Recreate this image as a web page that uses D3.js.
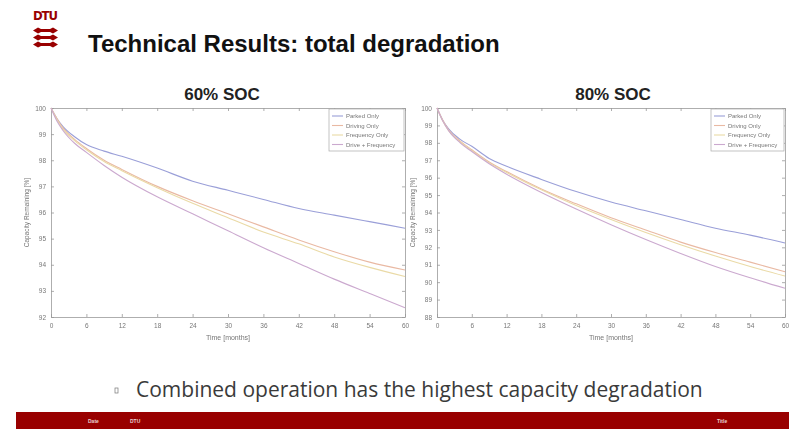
<!DOCTYPE html>
<html>
<head>
<meta charset="utf-8">
<script src="https://cdn.jsdelivr.net/npm/d3@7/dist/d3.min.js"></script>
<style>
  html, body { margin: 0; padding: 0; background: #fff; }
  svg { display: block; }
</style>
</head>
<body>
<svg id="slide" width="789" height="429"></svg>
<script>
// ---- data ----
const months = [0, 1, 2, 4, 6, 9, 12, 18, 24, 30, 36, 42, 48, 54, 60];
const seriesNames = ["Parked Only", "Driving Only", "Frequency Only", "Drive + Frequency"];
const seriesColors = ["#9a9fd8", "#e9b9a3", "#eadaa6", "#cba9cf"];

// capacity remaining [%], 60% SOC
const soc60Parked    = [100, 99.6, 99.3, 98.9, 98.6, 98.35, 98.15, 97.7, 97.2, 96.85, 96.5, 96.15, 95.9, 95.65, 95.4];
const soc60Driving   = [100, 99.6, 99.25, 98.8, 98.45, 98.0, 97.65, 97.0, 96.45, 95.95, 95.45, 94.95, 94.5, 94.1, 93.8];
const soc60Frequency = [100, 99.55, 99.2, 98.75, 98.4, 97.95, 97.6, 96.95, 96.35, 95.8, 95.25, 94.8, 94.3, 93.9, 93.55];
const soc60Combined  = [100, 99.5, 99.15, 98.65, 98.3, 97.8, 97.35, 96.6, 95.95, 95.3, 94.65, 94.05, 93.45, 92.9, 92.35];

// capacity remaining [%], 80% SOC
const soc80Parked    = [100, 99.3, 98.8, 98.2, 97.8, 97.1, 96.65, 95.9, 95.2, 94.6, 94.1, 93.6, 93.1, 92.7, 92.25];
const soc80Driving   = [100, 99.3, 98.75, 98.1, 97.6, 96.9, 96.35, 95.35, 94.5, 93.7, 93.0, 92.3, 91.7, 91.15, 90.6];
const soc80Frequency = [100, 99.25, 98.7, 98.05, 97.55, 96.85, 96.3, 95.3, 94.4, 93.6, 92.85, 92.15, 91.5, 90.9, 90.35];
const soc80Combined  = [100, 99.25, 98.7, 98.0, 97.5, 96.8, 96.2, 95.15, 94.2, 93.3, 92.45, 91.65, 90.9, 90.25, 89.65];

const xTicks = [0, 6, 12, 18, 24, 30, 36, 42, 48, 54, 60];
const yTicks60 = [92, 93, 94, 95, 96, 97, 98, 99, 100];
const yTicks80 = [88, 89, 90, 91, 92, 93, 94, 95, 96, 97, 98, 99, 100];

const panels = [
  { title: "60% SOC", yDomain: [92, 100], yTicks: yTicks60,
    series: [soc60Parked, soc60Driving, soc60Frequency, soc60Combined],
    left: 51, right: 405, top: 108, bottom: 317, titleX: 222, legendX: 329 },
  { title: "80% SOC", yDomain: [88, 100], yTicks: yTicks80,
    series: [soc80Parked, soc80Driving, soc80Frequency, soc80Combined],
    left: 437, right: 785, top: 108, bottom: 317, titleX: 613, legendX: 711 }
];

const svg = d3.select("#slide");
const dark = "#990000";

// soft focus for the embedded plots
const defs = svg.append("defs");
defs.append("filter").attr("id", "soft")
  .append("feGaussianBlur").attr("stdDeviation", 0.6);

// ---- header: logo + heading ----
const logo = svg.append("g");
logo.append("text").attr("x", 33).attr("y", 20)
  .attr("font-family", "DejaVu Sans Condensed, DejaVu Sans").attr("font-weight", "bold")
  .attr("font-size", 13).attr("fill", dark).attr("textLength", 25).text("DTU");
[30.5, 37.5, 44.5].forEach(cy => {
  logo.append("path")
    .attr("d", `M33,${cy} L38,${cy - 3} L41,${cy - 1.5} L50,${cy - 1.5} L53,${cy - 3} L58,${cy} L53,${cy + 3} L50,${cy + 1.5} L41,${cy + 1.5} L38,${cy + 3} Z`)
    .attr("fill", dark);
});
svg.append("text").attr("x", 88).attr("y", 52)
  .attr("font-family", "Liberation Sans, Arial, sans-serif").attr("font-weight", "bold")
  .attr("font-size", 24).attr("fill", "#111").text("Technical Results: total degradation");

// ---- plots ----
panels.forEach(p => {
  svg.append("text").attr("x", p.titleX).attr("y", 100).attr("text-anchor", "middle")
    .attr("font-family", "Liberation Sans, Arial, sans-serif").attr("font-weight", "bold")
    .attr("font-size", 17).attr("fill", "#222").text(p.title);

  const g = svg.append("g").attr("filter", "url(#soft)");
  const x = d3.scaleLinear().domain([0, 60]).range([p.left, p.right]);
  const y = d3.scaleLinear().domain(p.yDomain).range([p.bottom, p.top]);

  g.append("rect").attr("x", p.left).attr("y", p.top)
    .attr("width", p.right - p.left).attr("height", p.bottom - p.top).attr("fill", "#fff");

  const style = sel => {
    sel.select(".domain").attr("stroke", "#999").attr("stroke-width", 0.8);
    sel.selectAll(".tick line").attr("stroke", "#999").attr("stroke-width", 0.8);
    sel.selectAll(".tick text").attr("fill", "#777")
      .attr("font-family", "Liberation Sans, Arial, sans-serif").attr("font-size", 6.5);
  };

  g.append("g").attr("transform", `translate(0,${p.bottom})`)
    .call(d3.axisBottom(x).tickValues(xTicks).tickSize(-3).tickSizeOuter(0).tickPadding(6))
    .call(style);
  g.append("g").attr("transform", `translate(0,${p.top})`)
    .call(d3.axisTop(x).tickValues(xTicks).tickSize(-3).tickSizeOuter(0).tickFormat(""))
    .call(style);
  g.append("g").attr("transform", `translate(${p.left},0)`)
    .call(d3.axisLeft(y).tickValues(p.yTicks).tickSize(-3).tickSizeOuter(0).tickPadding(5))
    .call(style);
  g.append("g").attr("transform", `translate(${p.right},0)`)
    .call(d3.axisRight(y).tickValues(p.yTicks).tickSize(-3).tickSizeOuter(0).tickFormat(""))
    .call(style);

  // axis titles
  g.append("text")
    .attr("transform", `translate(${p.left - 22},${(p.top + p.bottom) / 2}) rotate(-90)`)
    .attr("text-anchor", "middle").attr("font-family", "Liberation Sans, Arial, sans-serif")
    .attr("font-size", 6.5).attr("fill", "#777").text("Capacity Remaining [%]");
  g.append("text").attr("x", (p.left + p.right) / 2).attr("y", 340)
    .attr("text-anchor", "middle").attr("font-family", "Liberation Sans, Arial, sans-serif")
    .attr("font-size", 7).attr("fill", "#777").text("Time [months]");

  // curves
  const line = d3.line().x((d, i) => x(months[i])).y(d => y(d)).curve(d3.curveMonotoneX);
  p.series.forEach((vals, k) => {
    g.append("path").datum(vals).attr("d", line)
      .attr("fill", "none").attr("stroke", seriesColors[k]).attr("stroke-width", 1.1);
  });

  // legend
  const lg = g.append("g");
  const lw = p.right - p.legendX;
  lg.append("rect").attr("x", p.legendX).attr("y", p.top + 1)
    .attr("width", lw - 1).attr("height", 42)
    .attr("fill", "#fff").attr("stroke", "#aaa").attr("stroke-width", 0.7);
  seriesNames.forEach((name, k) => {
    const ly = p.top + 8 + k * 9.5;
    lg.append("line").attr("x1", p.legendX + 3).attr("x2", p.legendX + 14)
      .attr("y1", ly).attr("y2", ly).attr("stroke", seriesColors[k]).attr("stroke-width", 1.1);
    lg.append("text").attr("x", p.legendX + 17).attr("y", ly + 2)
      .attr("font-family", "Liberation Sans, Arial, sans-serif").attr("font-size", 6)
      .attr("fill", "#777").text(name);
  });
});

// ---- bullet ----
svg.append("rect").attr("x", 115).attr("y", 388).attr("width", 3).attr("height", 5)
  .attr("fill", "none").attr("stroke", "#777").attr("stroke-width", 0.7);
svg.append("text").attr("x", 136).attr("y", 397)
  .attr("font-family", "Open Sans, sans-serif").attr("font-size", 21)
  .attr("fill", "#3a3a3a").text("Combined operation has the highest capacity degradation");

// ---- footer ----
svg.append("rect").attr("x", 16).attr("y", 412).attr("width", 773).attr("height", 17).attr("fill", dark);
[["Date", 88], ["DTU", 130], ["Title", 717]].forEach(([t, fx]) => {
  svg.append("text").attr("x", fx).attr("y", 423)
    .attr("font-family", "Liberation Sans, Arial, sans-serif").attr("font-weight", "bold")
    .attr("font-size", 5).attr("fill", "#e8d0d0").text(t);
});
</script>
</body>
</html>
